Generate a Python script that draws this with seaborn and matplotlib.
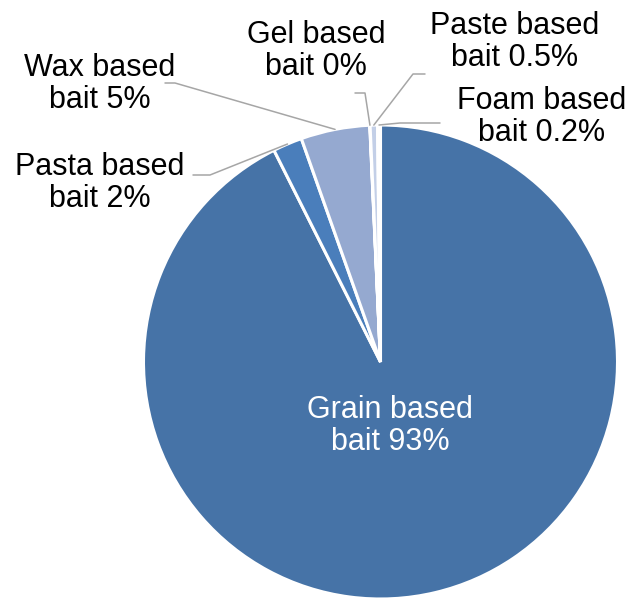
import numpy as np
import matplotlib
matplotlib.use("Agg")
import matplotlib.pyplot as plt
import seaborn as sns

# data (clockwise from 12 o'clock)
categories = ["Grain based", "Pasta based", "Wax based", "Gel based", "Paste based", "Foam based"]
shares = [92.6, 2.0, 4.7, 0.02, 0.5, 0.2]
pct_labels = ["93%", "2%", "5%", "0%", "0.5%", "0.2%"]

colors = ["#4673A7", "#4A7EBB", "#95A9D0", "#B9C6E2", "#C3CFE7", "#DCE3F1"]

sns.set_theme(style="white")
plt.rcParams["font.family"] = ["Liberation Sans", "DejaVu Sans"]

W, H = 635, 599
CX, CY, R = 380.5, 362, 237.0

fig = plt.figure(figsize=(W / 100, H / 100), dpi=100)
ax = fig.add_axes([0, 0, 1, 1])


def px(x, y):
    # pixel position (from top-left) -> data units
    return (x - CX) / R, (CY - y) / R


wedges, _ = ax.pie(shares, colors=colors, startangle=90, counterclock=False,
                   radius=1.0, wedgeprops=dict(edgecolor="white", linewidth=2.2))

# pie() resets the limits, so set them afterwards
ax.set_xlim(-CX / R, (W - CX) / R)
ax.set_ylim(-(H - CY) / R, CY / R)
ax.set_aspect("equal")
ax.axis("off")

# label text centre and leader line start/elbow, in pixels
layout = {
    "Wax based": ((100, 84), [(165, 83), (175, 83)]),
    "Pasta based": ((100, 183), [(193, 175), (210, 175)]),
    "Gel based": ((316, 51), [(355, 93), (365, 93)]),
    "Paste based": ((515, 42), [(425, 74), (413, 74)]),
    "Foam based": ((542, 117), [(440, 123), (400, 123)]),
}

for w, cat, pct in zip(wedges, categories, pct_labels):
    text = f"{cat}\nbait {pct}"
    if cat == "Grain based":
        tx, ty = px(390, 426)
        ax.text(tx, ty, text, color="white", fontsize=22, ha="center", va="center",
                multialignment="center", linespacing=1.05)
        continue
    (lx, ly), pts = layout[cat]
    mid = np.deg2rad((w.theta1 + w.theta2) / 2)
    edge = (np.cos(mid), np.sin(mid))
    xs = [px(*p)[0] for p in pts] + [edge[0]]
    ys = [px(*p)[1] for p in pts] + [edge[1]]
    ax.plot(xs, ys, color="#A6A6A6", linewidth=1.1, clip_on=False)
    tx, ty = px(lx, ly)
    ax.text(tx, ty, text, color="black", fontsize=22, ha="center", va="center",
            multialignment="center", linespacing=1.05)

fig.savefig("out.png", dpi=100)
